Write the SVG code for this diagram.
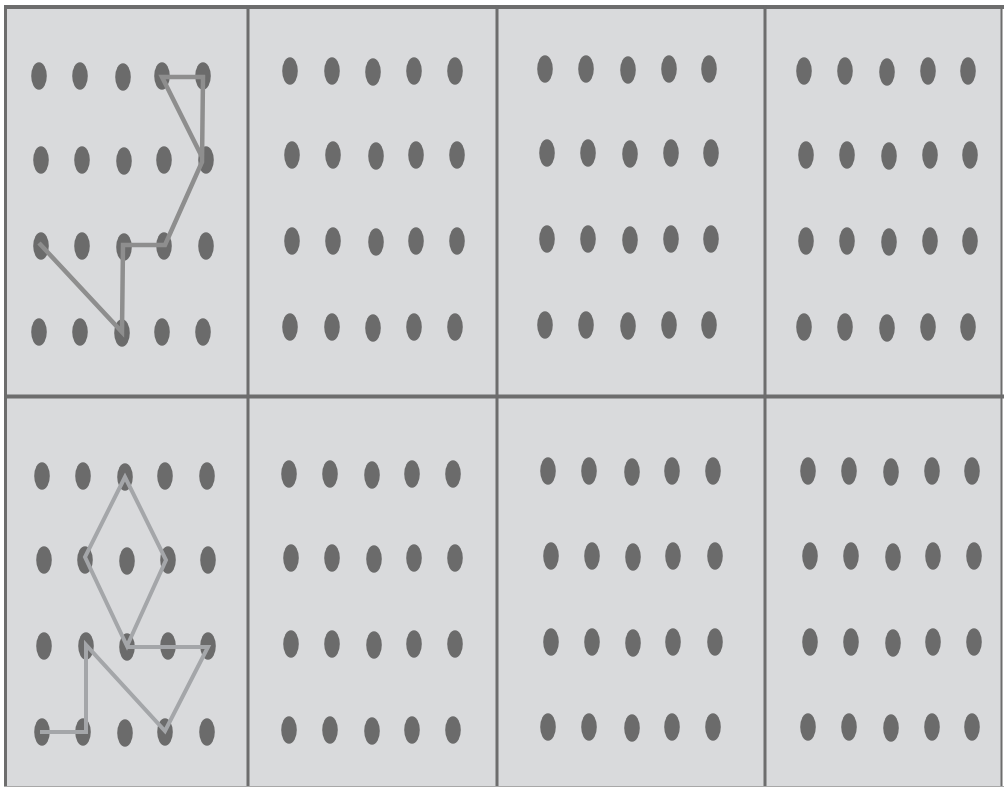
<svg xmlns="http://www.w3.org/2000/svg" width="1004" height="787" viewBox="0 0 1004 787">
<defs>
<style>
.bg{fill:#d9dadc}
.frame{stroke:#6d6d6d;fill:none}
.d{fill:#6b6b6b}
.d ellipse{rx:7.8px;ry:13.8px}
.p1{fill:none;stroke:#8e8e8e;stroke-width:4.5;stroke-linejoin:miter}
.p2{fill:none;stroke:#a4a6a9;stroke-width:4;stroke-linejoin:miter}
</style>
</defs>
<rect x="0" y="0" width="1004" height="787" fill="#ffffff"/>
<rect class="bg" x="5" y="7" width="997" height="780"/>
<g id="frame">
<line class="frame" x1="4" y1="7" x2="1004" y2="7" stroke-width="4"/>
<line class="frame" x1="5.5" y1="5" x2="5.5" y2="787" stroke-width="3"/>
<line class="frame" x1="1001.5" y1="5" x2="1001.5" y2="787" stroke-width="2" stroke="#8a8a8a"/>
<line class="frame" x1="4" y1="396.5" x2="1004" y2="396.5" stroke-width="4"/>
<line class="frame" x1="248" y1="5" x2="248" y2="787" stroke-width="3"/>
<line class="frame" x1="497" y1="5" x2="497" y2="787" stroke-width="3"/>
<line class="frame" x1="765" y1="5" x2="765" y2="787" stroke-width="3"/>
<line x1="4" y1="786.5" x2="1004" y2="786.5" stroke="#a8a8a8" stroke-width="1"/>
</g>
<g id="panel1">
<g class="d">
<ellipse cx="39" cy="76" rx="7.8" ry="13.8"/><ellipse cx="80" cy="76" rx="7.8" ry="13.8"/><ellipse cx="123" cy="77" rx="7.8" ry="13.8"/><ellipse cx="162" cy="76" rx="7.8" ry="13.8"/><ellipse cx="203" cy="76" rx="7.8" ry="13.8"/>
<ellipse cx="41" cy="160" rx="7.8" ry="13.8"/><ellipse cx="82" cy="160" rx="7.8" ry="13.8"/><ellipse cx="124" cy="161" rx="7.8" ry="13.8"/><ellipse cx="164" cy="160" rx="7.8" ry="13.8"/><ellipse cx="206" cy="160" rx="7.8" ry="13.8"/>
<ellipse cx="41" cy="246" rx="7.8" ry="13.8"/><ellipse cx="82" cy="246" rx="7.8" ry="13.8"/><ellipse cx="124" cy="247" rx="7.8" ry="13.8"/><ellipse cx="164" cy="246" rx="7.8" ry="13.8"/><ellipse cx="206" cy="246" rx="7.8" ry="13.8"/>
<ellipse cx="39" cy="332" rx="7.8" ry="13.8"/><ellipse cx="80" cy="332" rx="7.8" ry="13.8"/><ellipse cx="122" cy="333" rx="7.8" ry="13.8"/><ellipse cx="162" cy="332" rx="7.8" ry="13.8"/><ellipse cx="203" cy="332" rx="7.8" ry="13.8"/>
</g>
</g>
<g id="panel2">
<g class="d">
<ellipse cx="290" cy="71" rx="7.8" ry="13.8"/><ellipse cx="332" cy="71" rx="7.8" ry="13.8"/><ellipse cx="373" cy="72" rx="7.8" ry="13.8"/><ellipse cx="414" cy="71" rx="7.8" ry="13.8"/><ellipse cx="455" cy="71" rx="7.8" ry="13.8"/>
<ellipse cx="292" cy="155" rx="7.8" ry="13.8"/><ellipse cx="333" cy="155" rx="7.8" ry="13.8"/><ellipse cx="376" cy="156" rx="7.8" ry="13.8"/><ellipse cx="416" cy="155" rx="7.8" ry="13.8"/><ellipse cx="457" cy="155" rx="7.8" ry="13.8"/>
<ellipse cx="292" cy="241" rx="7.8" ry="13.8"/><ellipse cx="333" cy="241" rx="7.8" ry="13.8"/><ellipse cx="376" cy="242" rx="7.8" ry="13.8"/><ellipse cx="416" cy="241" rx="7.8" ry="13.8"/><ellipse cx="457" cy="241" rx="7.8" ry="13.8"/>
<ellipse cx="290" cy="327" rx="7.8" ry="13.8"/><ellipse cx="332" cy="327" rx="7.8" ry="13.8"/><ellipse cx="373" cy="328" rx="7.8" ry="13.8"/><ellipse cx="414" cy="327" rx="7.8" ry="13.8"/><ellipse cx="455" cy="327" rx="7.8" ry="13.8"/>
</g>
</g>
<g id="panel3">
<g class="d">
<ellipse cx="545" cy="69" rx="7.8" ry="13.8"/><ellipse cx="586" cy="69" rx="7.8" ry="13.8"/><ellipse cx="628" cy="70" rx="7.8" ry="13.8"/><ellipse cx="669" cy="69" rx="7.8" ry="13.8"/><ellipse cx="709" cy="69" rx="7.8" ry="13.8"/>
<ellipse cx="547" cy="153" rx="7.8" ry="13.8"/><ellipse cx="588" cy="153" rx="7.8" ry="13.8"/><ellipse cx="630" cy="154" rx="7.8" ry="13.8"/><ellipse cx="671" cy="153" rx="7.8" ry="13.8"/><ellipse cx="711" cy="153" rx="7.8" ry="13.8"/>
<ellipse cx="547" cy="239" rx="7.8" ry="13.8"/><ellipse cx="588" cy="239" rx="7.8" ry="13.8"/><ellipse cx="630" cy="240" rx="7.8" ry="13.8"/><ellipse cx="671" cy="239" rx="7.8" ry="13.8"/><ellipse cx="711" cy="239" rx="7.8" ry="13.8"/>
<ellipse cx="545" cy="325" rx="7.8" ry="13.8"/><ellipse cx="586" cy="325" rx="7.8" ry="13.8"/><ellipse cx="628" cy="326" rx="7.8" ry="13.8"/><ellipse cx="669" cy="325" rx="7.8" ry="13.8"/><ellipse cx="709" cy="325" rx="7.8" ry="13.8"/>
</g>
</g>
<g id="panel4">
<g class="d">
<ellipse cx="804" cy="71" rx="7.8" ry="13.8"/><ellipse cx="845" cy="71" rx="7.8" ry="13.8"/><ellipse cx="887" cy="72" rx="7.8" ry="13.8"/><ellipse cx="928" cy="71" rx="7.8" ry="13.8"/><ellipse cx="968" cy="71" rx="7.8" ry="13.8"/>
<ellipse cx="806" cy="155" rx="7.8" ry="13.8"/><ellipse cx="847" cy="155" rx="7.8" ry="13.8"/><ellipse cx="889" cy="156" rx="7.8" ry="13.8"/><ellipse cx="930" cy="155" rx="7.8" ry="13.8"/><ellipse cx="970" cy="155" rx="7.8" ry="13.8"/>
<ellipse cx="806" cy="241" rx="7.8" ry="13.8"/><ellipse cx="847" cy="241" rx="7.8" ry="13.8"/><ellipse cx="889" cy="242" rx="7.8" ry="13.8"/><ellipse cx="930" cy="241" rx="7.8" ry="13.8"/><ellipse cx="970" cy="241" rx="7.8" ry="13.8"/>
<ellipse cx="804" cy="327" rx="7.8" ry="13.8"/><ellipse cx="845" cy="327" rx="7.8" ry="13.8"/><ellipse cx="887" cy="328" rx="7.8" ry="13.8"/><ellipse cx="928" cy="327" rx="7.8" ry="13.8"/><ellipse cx="968" cy="327" rx="7.8" ry="13.8"/>
</g>
</g>
<g id="panel5">
<g class="d">
<ellipse cx="42" cy="476" rx="7.8" ry="13.8"/><ellipse cx="83" cy="476" rx="7.8" ry="13.8"/><ellipse cx="125" cy="477" rx="7.8" ry="13.8"/><ellipse cx="165" cy="476" rx="7.8" ry="13.8"/><ellipse cx="207" cy="476" rx="7.8" ry="13.8"/>
<ellipse cx="44" cy="560" rx="7.8" ry="13.8"/><ellipse cx="85" cy="560" rx="7.8" ry="13.8"/><ellipse cx="127" cy="561" rx="7.8" ry="13.8"/><ellipse cx="168" cy="560" rx="7.8" ry="13.8"/><ellipse cx="208" cy="560" rx="7.8" ry="13.8"/>
<ellipse cx="44" cy="646" rx="7.8" ry="13.8"/><ellipse cx="86" cy="646" rx="7.8" ry="13.8"/><ellipse cx="127" cy="647" rx="7.8" ry="13.8"/><ellipse cx="168" cy="646" rx="7.8" ry="13.8"/><ellipse cx="208" cy="646" rx="7.8" ry="13.8"/>
<ellipse cx="42" cy="732" rx="7.8" ry="13.8"/><ellipse cx="83" cy="732" rx="7.8" ry="13.8"/><ellipse cx="125" cy="733" rx="7.8" ry="13.8"/><ellipse cx="165" cy="732" rx="7.8" ry="13.8"/><ellipse cx="207" cy="732" rx="7.8" ry="13.8"/>
</g>
</g>
<g id="panel6">
<g class="d">
<ellipse cx="289" cy="474" rx="7.8" ry="13.8"/><ellipse cx="330" cy="474" rx="7.8" ry="13.8"/><ellipse cx="372" cy="475" rx="7.8" ry="13.8"/><ellipse cx="412" cy="474" rx="7.8" ry="13.8"/><ellipse cx="453" cy="474" rx="7.8" ry="13.8"/>
<ellipse cx="291" cy="558" rx="7.8" ry="13.8"/><ellipse cx="332" cy="558" rx="7.8" ry="13.8"/><ellipse cx="374" cy="559" rx="7.8" ry="13.8"/><ellipse cx="414" cy="558" rx="7.8" ry="13.8"/><ellipse cx="455" cy="558" rx="7.8" ry="13.8"/>
<ellipse cx="291" cy="644" rx="7.8" ry="13.8"/><ellipse cx="332" cy="644" rx="7.8" ry="13.8"/><ellipse cx="374" cy="645" rx="7.8" ry="13.8"/><ellipse cx="414" cy="644" rx="7.8" ry="13.8"/><ellipse cx="455" cy="644" rx="7.8" ry="13.8"/>
<ellipse cx="289" cy="730" rx="7.8" ry="13.8"/><ellipse cx="330" cy="730" rx="7.8" ry="13.8"/><ellipse cx="372" cy="731" rx="7.8" ry="13.8"/><ellipse cx="412" cy="730" rx="7.8" ry="13.8"/><ellipse cx="453" cy="730" rx="7.8" ry="13.8"/>
</g>
</g>
<g id="panel7">
<g class="d">
<ellipse cx="548" cy="471" rx="7.8" ry="13.8"/><ellipse cx="589" cy="471" rx="7.8" ry="13.8"/><ellipse cx="632" cy="472" rx="7.8" ry="13.8"/><ellipse cx="672" cy="471" rx="7.8" ry="13.8"/><ellipse cx="713" cy="471" rx="7.8" ry="13.8"/>
<ellipse cx="551" cy="556" rx="7.8" ry="13.8"/><ellipse cx="592" cy="556" rx="7.8" ry="13.8"/><ellipse cx="633" cy="557" rx="7.8" ry="13.8"/><ellipse cx="673" cy="556" rx="7.8" ry="13.8"/><ellipse cx="715" cy="556" rx="7.8" ry="13.8"/>
<ellipse cx="551" cy="642" rx="7.8" ry="13.8"/><ellipse cx="592" cy="642" rx="7.8" ry="13.8"/><ellipse cx="633" cy="643" rx="7.8" ry="13.8"/><ellipse cx="673" cy="642" rx="7.8" ry="13.8"/><ellipse cx="715" cy="642" rx="7.8" ry="13.8"/>
<ellipse cx="548" cy="727" rx="7.8" ry="13.8"/><ellipse cx="589" cy="727" rx="7.8" ry="13.8"/><ellipse cx="632" cy="728" rx="7.8" ry="13.8"/><ellipse cx="672" cy="727" rx="7.8" ry="13.8"/><ellipse cx="713" cy="727" rx="7.8" ry="13.8"/>
</g>
</g>
<g id="panel8">
<g class="d">
<ellipse cx="808" cy="471" rx="7.8" ry="13.8"/><ellipse cx="849" cy="471" rx="7.8" ry="13.8"/><ellipse cx="891" cy="472" rx="7.8" ry="13.8"/><ellipse cx="932" cy="471" rx="7.8" ry="13.8"/><ellipse cx="972" cy="471" rx="7.8" ry="13.8"/>
<ellipse cx="810" cy="556" rx="7.8" ry="13.8"/><ellipse cx="851" cy="556" rx="7.8" ry="13.8"/><ellipse cx="893" cy="557" rx="7.8" ry="13.8"/><ellipse cx="933" cy="556" rx="7.8" ry="13.8"/><ellipse cx="974" cy="556" rx="7.8" ry="13.8"/>
<ellipse cx="810" cy="642" rx="7.8" ry="13.8"/><ellipse cx="851" cy="642" rx="7.8" ry="13.8"/><ellipse cx="893" cy="643" rx="7.8" ry="13.8"/><ellipse cx="933" cy="642" rx="7.8" ry="13.8"/><ellipse cx="974" cy="642" rx="7.8" ry="13.8"/>
<ellipse cx="808" cy="727" rx="7.8" ry="13.8"/><ellipse cx="849" cy="727" rx="7.8" ry="13.8"/><ellipse cx="891" cy="728" rx="7.8" ry="13.8"/><ellipse cx="932" cy="727" rx="7.8" ry="13.8"/><ellipse cx="972" cy="727" rx="7.8" ry="13.8"/>
</g>
</g>
<g id="connectors">
<polyline class="p1" points="39,243 122,332 123,245 165,245 202,162 203,77 162,77 202,157"/>
<polygon class="p2" points="125,477 85,557 127,646 166,560"/>
<polyline class="p2" points="127,647 208,647 165,731 86,645 86,732 40,732"/>
</g>
</svg>
